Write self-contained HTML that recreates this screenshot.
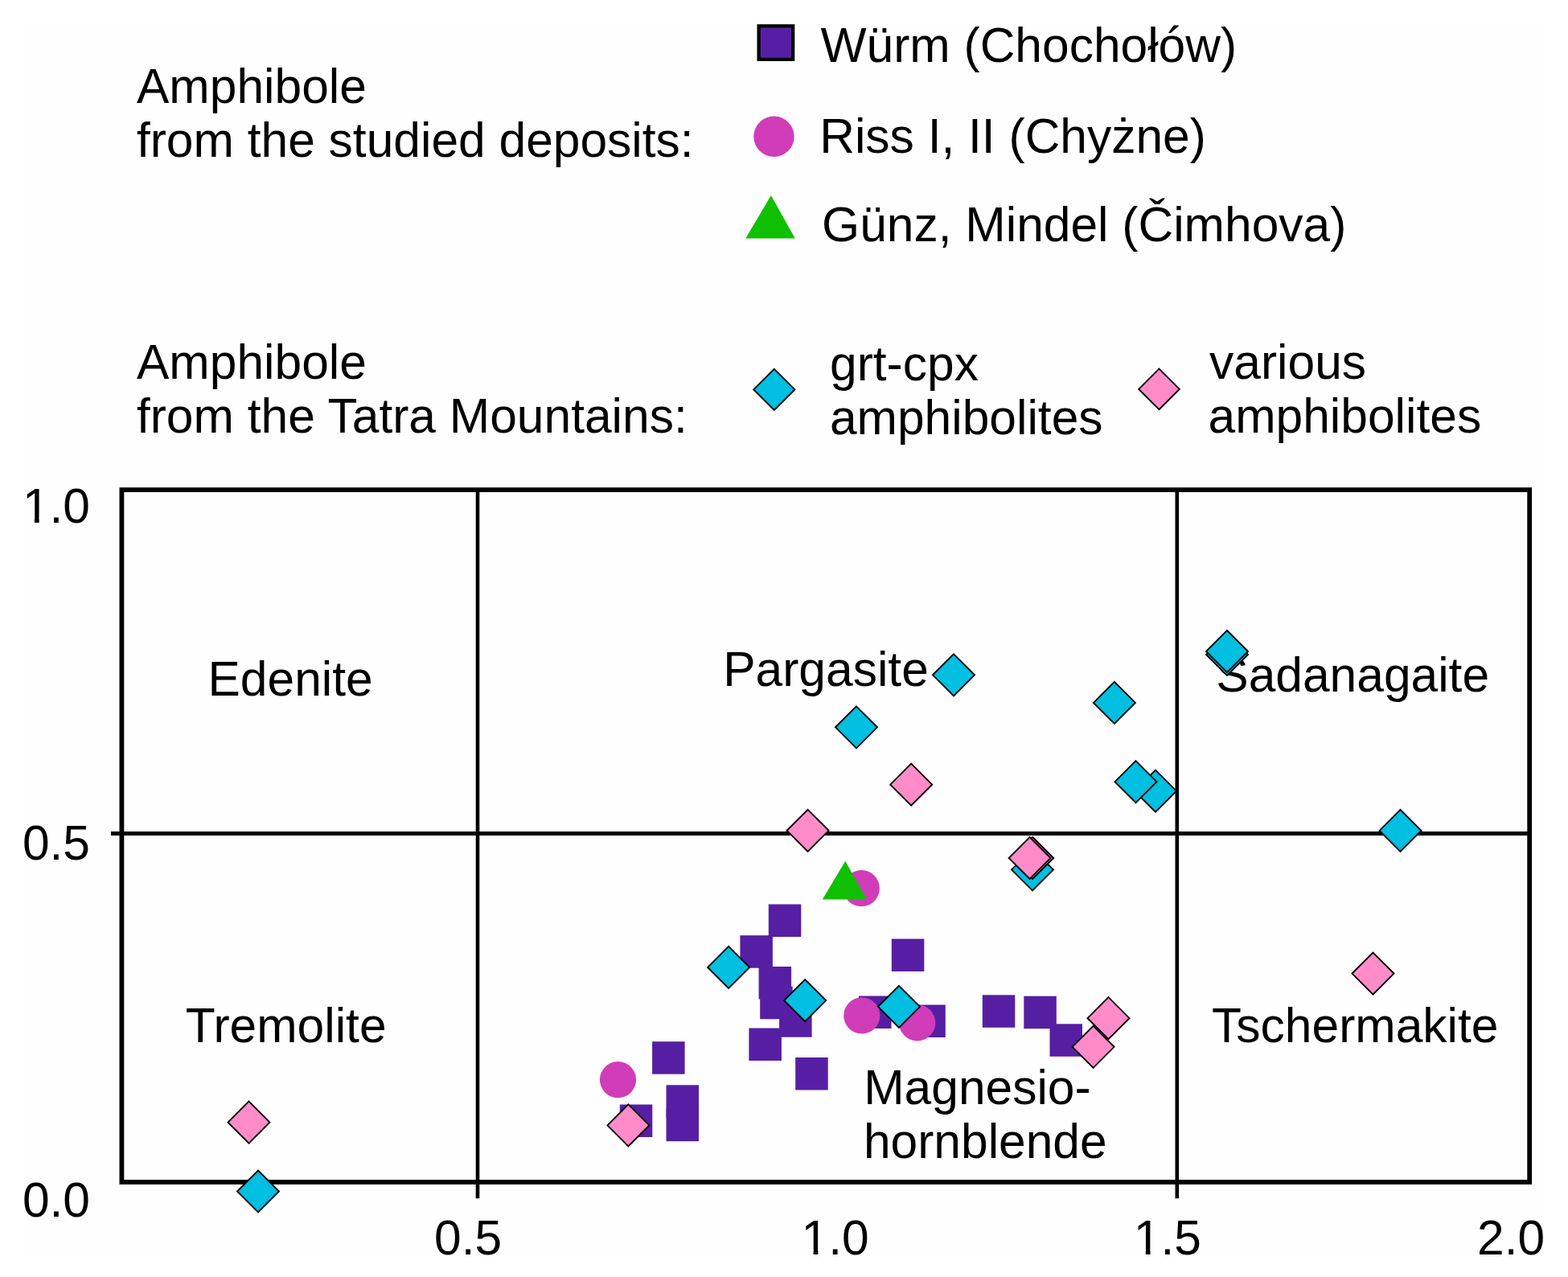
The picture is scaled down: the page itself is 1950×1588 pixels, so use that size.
<!DOCTYPE html><html><head><meta charset="utf-8"><title>Amphibole classification diagram</title>
<style>html,body{margin:0;padding:0;background:#fff;}svg{display:block;}text{font-family:"Liberation Sans", Arial, sans-serif;font-size:60.5px;fill:#000;}</style></head><body>
<svg width="1950" height="1588" viewBox="0 0 1950 1588">
<rect x="0" y="0" width="1950" height="1588" fill="#fff"/>
<rect x="30.5" y="30" width="1890.5" height="1533" fill="#fefefe"/>
<rect x="943.6" y="32.3" width="42.6" height="41.6" fill="#561fa3" stroke="#000" stroke-width="4.2"/>
<circle cx="962.5" cy="169.8" r="25.2" fill="#d13cb8"/>
<path d="M958.9 243L988.8 296.5L927.2 296.5Z" fill="#10c000"/>
<path d="M962.8 458.8L988.4 484.4L962.8 510.0L937.2 484.4Z" fill="#00bfe0" stroke="#000" stroke-width="1.9" stroke-linejoin="miter"/>
<path d="M1441.5 458.6L1466.8 483.9L1441.5 509.2L1416.2 483.9Z" fill="#ff8cc8" stroke="#000" stroke-width="1.9" stroke-linejoin="miter"/>
<text x="170.0" y="128.0">Amphibole</text>
<text x="169.9" y="195.0">from the studied deposits:</text>
<text x="1020.4" y="77.0">Würm (Chochołów)</text>
<text x="1019.2" y="190.3">Riss I, II (Chyżne)</text>
<text x="1022.1" y="299.7">Günz, Mindel (Čimhova)</text>
<text x="170.0" y="471.0">Amphibole</text>
<text x="169.9" y="538.2">from the Tatra Mountains:</text>
<text x="1032.0" y="473.0">grt-cpx</text>
<text x="1031.9" y="540.0">amphibolites</text>
<text x="1504.0" y="470.8">various</text>
<text x="1502.5" y="537.9">amphibolites</text>
<text x="258.5" y="864.9">Edenite</text>
<text x="899.2" y="853.1">Pargasite</text>
<text x="230.7" y="1296.3">Tremolite</text>
<text x="1507.1" y="1295.9">Tschermakite</text>
<text x="1074.2" y="1372.6">Magnesio-</text>
<text x="1073.9" y="1439.5">hornblende</text>
<text x="27.9" y="650.2">1.0</text>
<text x="27.9" y="1068.8">0.5</text>
<text x="27.9" y="1513.2">0.0</text>
<text x="540.0" y="1559.6">0.5</text>
<text x="996.6" y="1559.6">1.0</text>
<text x="1409.8" y="1559.6">1.5</text>
<text x="1837.0" y="1559.5">2.0</text>
<text x="1512.3" y="859.5">Sadanagaite</text>
<rect x="31.51" y="644.18" width="11.41" height="7.02" fill="#fefefe"/>
<rect x="48.66" y="644.18" width="11.13" height="7.02" fill="#fefefe"/>
<rect x="1000.21" y="1553.58" width="11.41" height="7.02" fill="#fefefe"/>
<rect x="1017.36" y="1553.58" width="11.13" height="7.02" fill="#fefefe"/>
<rect x="1413.41" y="1553.58" width="11.41" height="7.02" fill="#fefefe"/>
<rect x="1430.56" y="1553.58" width="11.13" height="7.02" fill="#fefefe"/>
<g stroke="#000" fill="none">
<path d="M594 609.1V1490.3M1463.8 609.1V1490.3" stroke-width="4.6"/>
<path d="M138 1036.4H1902.2" stroke-width="5"/>
<rect x="151.4" y="609.1" width="1750.8" height="860.9" stroke-width="5.8"/>
</g>
<rect x="811.1" y="1295.2" width="40.5" height="40.5" fill="#561fa3"/>
<rect x="828.5" y="1349.3" width="40.5" height="40.5" fill="#561fa3"/>
<rect x="828.5" y="1378.7" width="40.5" height="40.5" fill="#561fa3"/>
<rect x="770.8" y="1373.5" width="40.5" height="40.5" fill="#561fa3"/>
<rect x="955.8" y="1124.5" width="40.5" height="40.5" fill="#561fa3"/>
<rect x="920.4" y="1163.2" width="40.5" height="40.5" fill="#561fa3"/>
<rect x="943.6" y="1202.0" width="40.5" height="40.5" fill="#561fa3"/>
<rect x="945.2" y="1226.8" width="40.5" height="40.5" fill="#561fa3"/>
<rect x="969.1" y="1249.2" width="40.5" height="40.5" fill="#561fa3"/>
<rect x="931.4" y="1278.5" width="40.5" height="40.5" fill="#561fa3"/>
<rect x="989.2" y="1315.0" width="40.5" height="40.5" fill="#561fa3"/>
<rect x="1108.8" y="1167.5" width="40.5" height="40.5" fill="#561fa3"/>
<rect x="1068.0" y="1238.5" width="40.5" height="40.5" fill="#561fa3"/>
<rect x="1135.3" y="1249.5" width="40.5" height="40.5" fill="#561fa3"/>
<rect x="1221.8" y="1237.3" width="40.5" height="40.5" fill="#561fa3"/>
<rect x="1273.3" y="1238.7" width="40.5" height="40.5" fill="#561fa3"/>
<rect x="1305.5" y="1273.3" width="40.5" height="40.5" fill="#561fa3"/>
<circle cx="768.5" cy="1342.7" r="22.6" fill="#d13cb8"/>
<circle cx="1071.3" cy="1104.7" r="22.6" fill="#d13cb8"/>
<circle cx="1071.8" cy="1262.9" r="22.6" fill="#d13cb8"/>
<circle cx="1140.7" cy="1271.8" r="22.6" fill="#d13cb8"/>
<path d="M1051.2 1070.7L1078 1118.6L1022.8 1118.6Z" fill="#10c000"/>
<path d="M321.0 1455.5L347.0 1481.5L321.0 1507.5L295.0 1481.5Z" fill="#00bfe0" stroke="#000" stroke-width="1.9" stroke-linejoin="miter"/>
<path d="M906.1 1176.9L932.1 1202.9L906.1 1228.9L880.1 1202.9Z" fill="#00bfe0" stroke="#000" stroke-width="1.9" stroke-linejoin="miter"/>
<path d="M1001.2 1218.1L1027.2 1244.1L1001.2 1270.1L975.2 1244.1Z" fill="#00bfe0" stroke="#000" stroke-width="1.9" stroke-linejoin="miter"/>
<path d="M1118.0 1225.8L1144.0 1251.8L1118.0 1277.8L1092.0 1251.8Z" fill="#00bfe0" stroke="#000" stroke-width="1.9" stroke-linejoin="miter"/>
<path d="M1065.0 878.3L1091.0 904.3L1065.0 930.3L1039.0 904.3Z" fill="#00bfe0" stroke="#000" stroke-width="1.9" stroke-linejoin="miter"/>
<path d="M1186.0 813.3L1212.0 839.3L1186.0 865.3L1160.0 839.3Z" fill="#00bfe0" stroke="#000" stroke-width="1.9" stroke-linejoin="miter"/>
<path d="M1385.9 847.9L1411.9 873.9L1385.9 899.9L1359.9 873.9Z" fill="#00bfe0" stroke="#000" stroke-width="1.9" stroke-linejoin="miter"/>
<path d="M1437.0 957.7L1463.0 983.7L1437.0 1009.7L1411.0 983.7Z" fill="#00bfe0" stroke="#000" stroke-width="1.9" stroke-linejoin="miter"/>
<path d="M1412.5 946.2L1438.5 972.2L1412.5 998.2L1386.5 972.2Z" fill="#00bfe0" stroke="#000" stroke-width="1.9" stroke-linejoin="miter"/>
<path d="M1526.0 788.0L1552.0 814.0L1526.0 840.0L1500.0 814.0Z" fill="#00bfe0" stroke="#000" stroke-width="1.9" stroke-linejoin="miter"/>
<path d="M1526.0 784.0L1552.0 810.0L1526.0 836.0L1500.0 810.0Z" fill="#00bfe0" stroke="#000" stroke-width="1.9" stroke-linejoin="miter"/>
<path d="M1741.5 1006.9L1767.5 1032.9L1741.5 1058.9L1715.5 1032.9Z" fill="#00bfe0" stroke="#000" stroke-width="1.9" stroke-linejoin="miter"/>
<path d="M1284.0 1055.5L1310.0 1081.5L1284.0 1107.5L1258.0 1081.5Z" fill="#00bfe0" stroke="#000" stroke-width="1.9" stroke-linejoin="miter"/>
<path d="M309.5 1369.7L335.5 1395.7L309.5 1421.7L283.5 1395.7Z" fill="#ff8cc8" stroke="#000" stroke-width="1.9" stroke-linejoin="miter"/>
<path d="M781.4 1373.4L807.4 1399.4L781.4 1425.4L755.4 1399.4Z" fill="#ff8cc8" stroke="#000" stroke-width="1.9" stroke-linejoin="miter"/>
<path d="M1004.6 1006.8L1030.6 1032.8L1004.6 1058.8L978.6 1032.8Z" fill="#ff8cc8" stroke="#000" stroke-width="1.9" stroke-linejoin="miter"/>
<path d="M1133.2 949.7L1159.2 975.7L1133.2 1001.7L1107.2 975.7Z" fill="#ff8cc8" stroke="#000" stroke-width="1.9" stroke-linejoin="miter"/>
<path d="M1284.2 1041.0L1310.2 1067.0L1284.2 1093.0L1258.2 1067.0Z" fill="#ff8cc8" stroke="#000" stroke-width="1.9" stroke-linejoin="miter"/>
<path d="M1280.6 1041.0L1306.6 1067.0L1280.6 1093.0L1254.6 1067.0Z" fill="#ff8cc8" stroke="#000" stroke-width="1.9" stroke-linejoin="miter"/>
<path d="M1359.6 1275.8L1385.6 1301.8L1359.6 1327.8L1333.6 1301.8Z" fill="#ff8cc8" stroke="#000" stroke-width="1.9" stroke-linejoin="miter"/>
<path d="M1378.5 1240.2L1404.5 1266.2L1378.5 1292.2L1352.5 1266.2Z" fill="#ff8cc8" stroke="#000" stroke-width="1.9" stroke-linejoin="miter"/>
<path d="M1707.5 1184.6L1733.5 1210.6L1707.5 1236.6L1681.5 1210.6Z" fill="#ff8cc8" stroke="#000" stroke-width="1.9" stroke-linejoin="miter"/>
</svg></body></html>
